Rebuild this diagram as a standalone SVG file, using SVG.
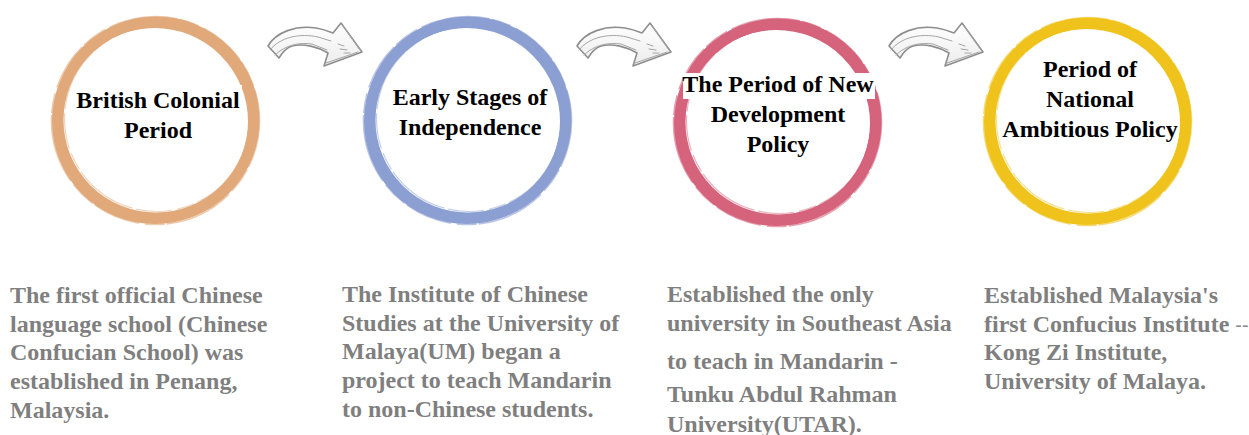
<svg xmlns="http://www.w3.org/2000/svg" xmlns:xlink="http://www.w3.org/1999/xlink" width="1249" height="435" viewBox="0 0 1249 435">
  <style>
    .title { font-family: "Liberation Serif", "Times New Roman", serif; font-weight: bold; font-size: 24px; fill: #000; text-anchor: middle; }
    .body { font-family: "Liberation Serif", "Times New Roman", serif; font-weight: bold; font-size: 24px; fill: #7f7f7f; }
    .thin { font-family: "Liberation Sans", Arial, sans-serif; font-weight: normal; font-size: 20px; fill: #8a8a8a; }
    .ring { fill: none; stroke-width: 11; }
    .ring2 { fill: none; stroke-width: 9; }
    .bristle { fill: none; stroke-width: 1.6; stroke-dasharray: 48 3 26 5 70 2 20 6; opacity: 0.6; }
    .bristle2 { fill: none; stroke-width: 1.2; stroke-dasharray: 36 4 64 3 18 5; opacity: 0.5; }
    .arrow-body { fill: url(#arrowFill); stroke: #8e8e8e; stroke-width: 1.6; stroke-linejoin: round; }
    .sketch { fill: none; stroke: #a6a6a6; stroke-width: 1; stroke-linecap: round; }
    .mask { fill: #fff; }
  </style>
  <defs>
    <linearGradient id="arrowFill" x1="0" y1="0" x2="0" y2="1">
      <stop offset="0" stop-color="#ffffff"/>
      <stop offset="1" stop-color="#ececec"/>
    </linearGradient>
    <!-- hand-drawn curved arrow, drawn once and reused between stages -->
    <g id="curvedArrow">
      <path class="arrow-body" d="M268,46 C276,32 296,25 316,28 C322,29 328,31 333,33 L341,23 L362,52 L324,66 L328,53 C318,47 304,43 292,46 C286,48 282,53 279,58 Z"/>
      <path class="sketch" d="M270,50 C280,37 300,33 318,37 L331,41"/>
      <path class="sketch" d="M275,55 C285,45 300,42 312,44 L327,50"/>
      <path class="sketch" d="M343,26 L360,50 M326,63 L358,52"/>
      <path class="sketch" d="M338,44 l6,2 m-4,3 l7,1 m-3,3 l6,0"/>
    </g>
  </defs>

  <!-- connectors between stages -->
  <g id="connectors">
    <use xlink:href="#curvedArrow"/>
    <use xlink:href="#curvedArrow" transform="translate(309,0)"/>
    <use xlink:href="#curvedArrow" transform="translate(621,0)"/>
  </g>

  <!-- stage 1 -->
  <g id="stage-british-colonial" stroke="#e1a97a">
    <circle class="ring" cx="156" cy="120" r="98"/>
    <circle class="ring2" cx="154.5" cy="121.5" r="98"/>
    <circle class="bristle" cx="155.5" cy="120.5" r="104"/>
    <circle class="bristle2" cx="157" cy="119" r="92.5"/>
    <rect class="mask" x="75" y="85" width="167" height="28" stroke="none"/>
    <text class="title" x="158" y="108" stroke="none">British Colonial</text>
    <text class="title" x="158" y="138" stroke="none">Period</text>
  </g>

  <!-- stage 2 -->
  <g id="stage-early-independence" stroke="#8c9fd2">
    <circle class="ring" cx="468" cy="120" r="98"/>
    <circle class="ring2" cx="466.5" cy="121.5" r="98"/>
    <circle class="bristle" cx="467.5" cy="120.5" r="104"/>
    <circle class="bristle2" cx="469" cy="119" r="92.5"/>
    <text class="title" x="470" y="105" stroke="none">Early Stages of</text>
    <text class="title" x="470" y="135" stroke="none">Independence</text>
  </g>

  <!-- stage 3 -->
  <g id="stage-new-development" stroke="#d5637b">
    <circle class="ring" cx="778" cy="122" r="98"/>
    <circle class="ring2" cx="776.5" cy="123.5" r="98"/>
    <circle class="bristle" cx="777.5" cy="122.5" r="104"/>
    <circle class="bristle2" cx="779" cy="121" r="92.5"/>
    <rect class="mask" x="683" y="73" width="192" height="26" stroke="none"/>
    <text class="title" x="778" y="92" stroke="none">The Period of New</text>
    <text class="title" x="778" y="122" stroke="none">Development</text>
    <text class="title" x="778" y="152" stroke="none">Policy</text>
  </g>

  <!-- stage 4 -->
  <g id="stage-national-ambitious" stroke="#efc31c">
    <circle class="ring" cx="1088" cy="121" r="98"/>
    <circle class="ring2" cx="1086.5" cy="122.5" r="98"/>
    <circle class="bristle" cx="1087.5" cy="121.5" r="104"/>
    <circle class="bristle2" cx="1089" cy="120" r="92.5"/>
    <text class="title" x="1090" y="77" stroke="none">Period of</text>
    <text class="title" x="1090" y="107" stroke="none">National</text>
    <text class="title" x="1090" y="137" stroke="none">Ambitious Policy</text>
  </g>

  <!-- descriptions -->
  <g id="desc-1">
    <text class="body" x="10" y="303">The first official Chinese</text>
    <text class="body" x="10" y="332">language school (Chinese</text>
    <text class="body" x="10" y="360">Confucian School) was</text>
    <text class="body" x="10" y="389">established in Penang,</text>
    <text class="body" x="10" y="418">Malaysia.</text>
  </g>
  <g id="desc-2">
    <text class="body" x="342" y="302">The Institute of Chinese</text>
    <text class="body" x="342" y="331">Studies at the University of</text>
    <text class="body" x="342" y="359">Malaya(UM) began a</text>
    <text class="body" x="342" y="388">project to teach Mandarin</text>
    <text class="body" x="342" y="417">to non-Chinese students.</text>
  </g>
  <g id="desc-3">
    <text class="body" x="667" y="302">Established the only</text>
    <text class="body" x="667" y="331">university in Southeast Asia</text>
    <text class="body" x="667" y="369">to teach in Mandarin -</text>
    <text class="body" x="667" y="402">Tunku Abdul Rahman</text>
    <text class="body" x="667" y="432">University(UTAR).</text>
  </g>
  <g id="desc-4">
    <text class="body" x="984" y="303">Established Malaysia's</text>
    <text class="body" x="984" y="332">first Confucius Institute <tspan class="thin">--</tspan></text>
    <text class="body" x="984" y="360">Kong Zi Institute,</text>
    <text class="body" x="984" y="389">University of Malaya.</text>
  </g>
</svg>
